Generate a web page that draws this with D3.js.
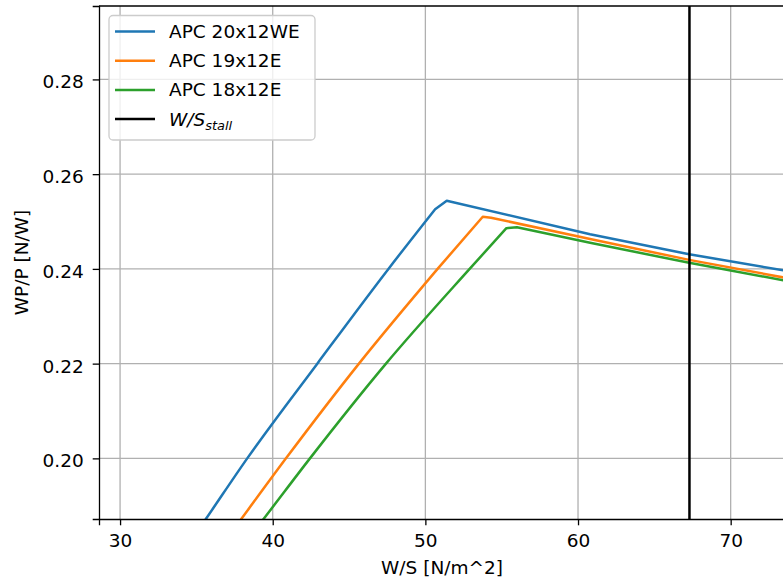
<!DOCTYPE html>
<html>
<head>
<meta charset="utf-8">
<script src="https://cdn.jsdelivr.net/npm/d3@7"></script>
<style>
  html, body { margin: 0; padding: 0; background: #fff; overflow: hidden; }
  svg { display: block; font-family: "DejaVu Sans", sans-serif; }
</style>
</head>
<body>
<script>
// ---- data ----
const seriesNames = ["APC 20x12WE", "APC 19x12E", "APC 18x12E"];
const seriesColors = ["#1f77b4", "#ff7f0e", "#2ca02c"];
const wsBlue   = [35.0, 35.62, 38.33, 42.92, 47.58, 50.64, 51.40, 60.79, 67.28, 73.44, 75.0];
const wpBlue   = [0.1843, 0.1872, 0.2000, 0.2200, 0.2400, 0.2526, 0.2544, 0.2473, 0.2431, 0.2397, 0.2389];
const wsOrange = [37.3, 37.94, 40.87, 45.65, 50.80, 53.76, 54.30, 60.79, 67.28, 73.44, 75.0];
const wpOrange = [0.1844, 0.1872, 0.2000, 0.2200, 0.2400, 0.2510, 0.2508, 0.2463, 0.2419, 0.2382, 0.2374];
const wsGreen  = [38.8, 39.40, 42.44, 47.42, 52.90, 55.31, 56.00, 60.79, 67.28, 73.44, 75.0];
const wpGreen  = [0.1847, 0.1872, 0.2000, 0.2200, 0.2400, 0.2486, 0.2488, 0.2455, 0.2413, 0.2376, 0.2368];
const wsStall = 67.3;
const xTicks = [30, 40, 50, 60, 70];
const yTicks = [0.20, 0.22, 0.24, 0.26, 0.28];
const xLabel = "W/S [N/m^2]";
const yLabel = "WP/P [N/W]";

const W = 783, H = 585;
const mLeft = 99, mTop = 6, mBottom = 519, mRight = 807;
const FS = 18.5;

const svg = d3.select("body").append("svg").attr("width", W).attr("height", H);

const x = d3.scaleLinear().domain([28.62, 75]).range([mLeft, mRight]);
const y = d3.scaleLinear().domain([0.1872, 0.2955]).range([mBottom, mTop]);

svg.append("defs").append("clipPath").attr("id", "clip")
  .append("rect").attr("x", mLeft).attr("y", mTop).attr("width", mRight - mLeft).attr("height", mBottom - mTop);

// grid
const grid = svg.append("g");
grid.selectAll(".gx").data(xTicks).join("line")
  .attr("x1", d => x(d)).attr("x2", d => x(d)).attr("y1", mTop).attr("y2", mBottom)
  .attr("stroke", "#b0b0b0").attr("stroke-width", 1.3);
grid.selectAll(".gy").data(yTicks).join("line")
  .attr("x1", mLeft).attr("x2", mRight).attr("y1", d => y(d)).attr("y2", d => y(d))
  .attr("stroke", "#b0b0b0").attr("stroke-width", 1.3);

// lines
const plot = svg.append("g").attr("clip-path", "url(#clip)");
const series = [
  {ws: wsBlue, wp: wpBlue},
  {ws: wsOrange, wp: wpOrange},
  {ws: wsGreen, wp: wpGreen}
];
const smooth = d3.line().x(d => x(d[0])).y(d => y(d[1])).curve(d3.curveMonotoneX);
const straight = d3.line().x(d => x(d[0])).y(d => y(d[1]));
series.forEach((s, i) => {
  const pts = d3.zip(s.ws, s.wp);
  const pk = d3.maxIndex(s.wp);
  const rising = pts.slice(0, pk);      // up to the corner
  const rest = pts.slice(pk - 1);       // corner, peak and the falling part
  const d = smooth(rising) + straight(rest).replace(/^M/, "L");
  plot.append("path")
    .attr("d", d)
    .attr("fill", "none").attr("stroke", seriesColors[i]).attr("stroke-width", 2.5)
    .attr("stroke-linejoin", "round").attr("stroke-linecap", "square");
});
plot.append("line")
  .attr("x1", x(wsStall)).attr("x2", x(wsStall)).attr("y1", mTop).attr("y2", mBottom)
  .attr("stroke", "#000").attr("stroke-width", 2.5);

// axes
const xAxis = svg.append("g").attr("transform", `translate(0,${mBottom})`)
  .call(d3.axisBottom(x).tickValues(xTicks).tickFormat(d3.format("d")).tickSize(6.3).tickPadding(9));
const yAxis = svg.append("g").attr("transform", `translate(${mLeft},0)`)
  .call(d3.axisLeft(y).tickValues(yTicks).tickFormat(d3.format(".2f")).tickSize(6.3).tickPadding(9));
[xAxis, yAxis].forEach(a => {
  a.selectAll("path").attr("stroke", "#000").attr("stroke-width", 1.3);
  a.selectAll("line").attr("stroke", "#000").attr("stroke-width", 1.3);
  a.selectAll("text").attr("font-size", FS).attr("fill", "#000").attr("font-family", "DejaVu Sans");
});
yAxis.selectAll("text").attr("dy", "0.46em");
// top spine
svg.append("line").attr("x1", mLeft).attr("x2", mRight).attr("y1", mTop).attr("y2", mTop)
  .attr("stroke", "#000").attr("stroke-width", 1.3);

// axis labels
svg.append("text").attr("x", 442).attr("y", 574).attr("text-anchor", "middle")
  .attr("font-size", FS).text(xLabel);
svg.append("text").attr("transform", `translate(28,${(mTop + mBottom) / 2}) rotate(-90)`)
  .attr("text-anchor", "middle").attr("font-size", FS).text(yLabel);

// legend
const lg = svg.append("g");
lg.append("rect").attr("x", 109).attr("y", 15.5).attr("width", 206).attr("height", 124.5)
  .attr("rx", 4).attr("fill", "#fff").attr("fill-opacity", 0.8)
  .attr("stroke", "#cccccc").attr("stroke-width", 1.3);
const legendItems = seriesNames.map((n, i) => ({name: n, color: seriesColors[i]}))
  .concat([{name: null, color: "#000"}]);
legendItems.forEach((d, i) => {
  const cy = 31.5 + i * 29.2;
  lg.append("line").attr("x1", 115).attr("x2", 155).attr("y1", cy).attr("y2", cy)
    .attr("stroke", d.color).attr("stroke-width", 2.5);
  const t = lg.append("text").attr("x", 169).attr("y", cy + 6.5).attr("font-size", FS);
  if (d.name) t.text(d.name);
  else {
    t.append("tspan").attr("font-style", "italic").text("W/S");
    t.append("tspan").attr("font-style", "italic").attr("font-size", FS * 0.7).attr("dy", 4).text("stall");
  }
});
</script>
</body>
</html>
